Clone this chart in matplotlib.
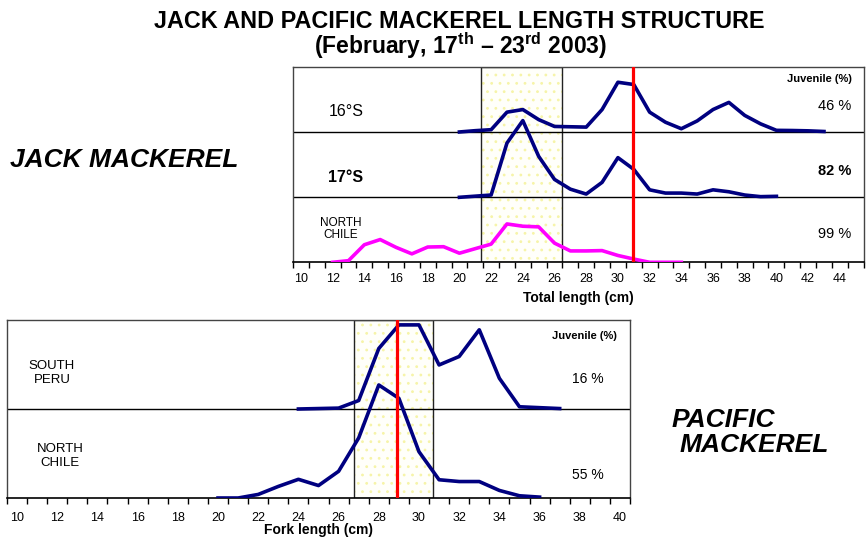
import matplotlib
matplotlib.use("Agg")
import matplotlib.pyplot as plt

plt.rcParams['font.family'] = ['Liberation Sans', 'DejaVu Sans']
plt.rcParams['mathtext.fontset'] = 'custom'
plt.rcParams['mathtext.bf'] = 'Liberation Sans:bold'
plt.rcParams['mathtext.rm'] = 'Liberation Sans'
plt.rcParams['hatch.linewidth'] = 0.8

# ---- data: length frequency (%) ----
jack_16s_len = list(range(20, 44))
jack_16s = [0.1, 0.5, 0.8, 6.2, 7.0, 3.9, 1.8, 1.7, 1.6, 7.0, 15.4, 14.7,
            6.2, 3.1, 1.1, 3.5, 7.0, 9.2, 5.2, 2.6, 0.6, 0.55, 0.45, 0.25]
jack_17s_len = list(range(20, 41))
jack_17s = [0.0, 0.35, 0.7, 16.7, 23.6, 12.6, 5.5, 2.5, 1.0, 4.6, 12.2, 8.6,
            2.3, 1.3, 1.3, 1.0, 2.3, 1.7, 0.7, 0.2, 0.3]
jack_nchile_len = list(range(12, 35))
jack_nchile = [0.0, 0.5, 5.4, 7.0, 4.6, 2.6, 4.7, 4.8, 2.8, 4.2, 5.6, 11.8,
               11.1, 10.9, 5.9, 3.5, 3.5, 3.6, 2.1, 1.0, 0.0, 0.0, 0.0]

pac_speru_len = list(range(24, 38))
pac_speru = [0.0, 0.1, 0.2, 1.9, 13.6, 18.9, 18.9, 9.9, 11.8, 17.8, 6.9, 0.5, 0.3, 0.1]
pac_nchile_len = list(range(20, 37))
pac_nchile = [0.0, 0.0, 0.8, 2.6, 4.2, 2.8, 6.0, 13.5, 25.4, 22.4, 10.4, 4.1,
              3.7, 3.7, 1.7, 0.5, 0.2]

jack_rows = ["16°S", "17°S", "NORTH\nCHILE"]
jack_juv = ["46 %", "82 %", "99 %"]
pac_rows = ["SOUTH\nPERU", "NORTH\nCHILE"]
pac_juv = ["16 %", "55 %"]

jack_box = (21.35, 26.5)   # shaded length window
jack_limit = 30.95         # length at first maturity
pac_box = (26.78, 30.7)
pac_limit = 28.9

NAVY = "#000080"
W, H = 867, 539
fig = plt.figure(figsize=(W / 100, H / 100), dpi=100)


def px_axes(x0, y0, x1, y1):
    return fig.add_axes([x0 / W, 1 - y1 / H, (x1 - x0) / W, (y1 - y0) / H])


def ftext(x, y, s, **kw):
    fig.text(x / W, 1 - y / H, s, **kw)


def setup(ax, lo, hi, nrows, box, limit):
    ax.set_xlim(lo - 0.5, hi + 0.5)
    ax.set_ylim(0, 20 * nrows)
    ax.set_yticks([])
    ax.set_xticks(range(lo, hi + 1, 2))
    ax.set_xticks([v + 0.5 for v in range(lo - 1, hi + 1)], minor=True)
    ax.tick_params(axis='x', which='major', length=0, labelsize=9)
    ax.tick_params(axis='x', which='minor', length=4, width=1, direction='out')
    for s in ['top', 'left', 'right']:
        ax.spines[s].set_color('#444444')
        ax.spines[s].set_linewidth(1)
    ax.spines['bottom'].set_linewidth(1.2)
    for k in range(1, nrows):
        ax.axhline(20 * k, color='black', lw=1, zorder=2)
    ax.axvspan(box[0], box[1], facecolor='#fffffa', edgecolor='#f6f4a8',
               hatch='..', lw=0, zorder=0)
    ax.axvspan(box[0], box[1], facecolor='none', edgecolor='#222222',
               lw=1, zorder=1)
    ax.axvline(limit, color='#ff0000', lw=2.3, zorder=4)


# ---- Jack mackerel ----
ax1 = px_axes(293, 67.3, 863.6, 262.3)
setup(ax1, 10, 45, 3, jack_box, jack_limit)
ax1.plot(jack_16s_len, [v + 40 for v in jack_16s], color=NAVY, lw=2.6, zorder=3)
ax1.plot(jack_17s_len, [v + 20 for v in jack_17s], color=NAVY, lw=2.6, zorder=3)
ax1.plot(jack_nchile_len, jack_nchile, color='#ff00ff', lw=2.6, zorder=3)
ax1.tick_params(axis='x', which='major', pad=8)

# ---- Pacific mackerel ----
ax2 = px_axes(7, 320, 630, 498)
setup(ax2, 10, 40, 2, pac_box, pac_limit)
ax2.plot(pac_speru_len, [v + 20 for v in pac_speru], color=NAVY, lw=2.6, zorder=3)
ax2.plot(pac_nchile_len, pac_nchile, color=NAVY, lw=2.6, zorder=3)
ax2.tick_params(axis='x', which='major', pad=10)

# ---- texts ----
ftext(459, 22, "JACK AND PACIFIC MACKEREL LENGTH STRUCTURE", ha='center',
      va='center', fontsize=16.8, fontweight='bold')
ftext(461, 46, r"(February, 17$^{\mathbf{th}}$ – 23$^{\mathbf{rd}}$ 2003)",
      ha='center', va='center', fontsize=16.5, fontweight='bold')

ftext(10, 160, "JACK MACKEREL", ha='left', va='center', fontsize=19,
      fontweight='bold', style='italic')
ftext(672, 420, "PACIFIC", ha='left', va='center', fontsize=19,
      fontweight='bold', style='italic')
ftext(680, 445, "MACKEREL", ha='left', va='center', fontsize=19,
      fontweight='bold', style='italic')

ftext(819, 79, "Juvenile (%)", ha='center', va='center', fontsize=8, fontweight='bold')
ftext(584, 336, "Juvenile (%)", ha='center', va='center', fontsize=8, fontweight='bold')

ftext(346, 111, jack_rows[0], ha='center', va='center', fontsize=11.5)
ftext(346, 178, jack_rows[1], ha='center', va='center', fontsize=11.5, fontweight='bold')
ftext(341, 229, jack_rows[2], ha='center', va='center', fontsize=8.5, linespacing=0.95)
ftext(835, 106, jack_juv[0], ha='center', va='center', fontsize=10.5)
ftext(835, 171, jack_juv[1], ha='center', va='center', fontsize=10.5, fontweight='bold')
ftext(835, 234, jack_juv[2], ha='center', va='center', fontsize=10.5)

ftext(52, 373, pac_rows[0], ha='center', va='center', fontsize=9.5, linespacing=1.2)
ftext(60, 456, pac_rows[1], ha='center', va='center', fontsize=9.5, linespacing=1.2)
ftext(588, 379, pac_juv[0], ha='center', va='center', fontsize=10)
ftext(588, 475, pac_juv[1], ha='center', va='center', fontsize=10)

ftext(578, 298, "Total length (cm)", ha='center', va='center', fontsize=10, fontweight='bold')
ftext(318, 530, "Fork length (cm)", ha='center', va='center', fontsize=10, fontweight='bold')

fig.savefig("out.png", dpi=100)
